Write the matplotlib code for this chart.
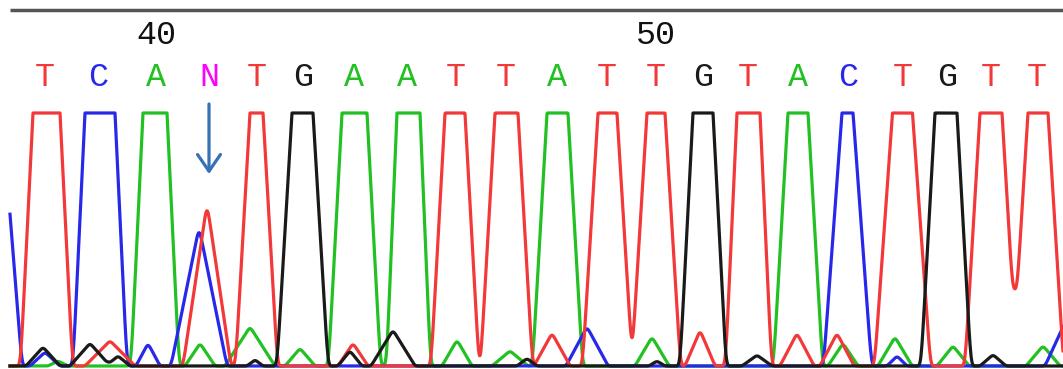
import numpy as np
import matplotlib.pyplot as plt

# base calls and where they sit on the trace (scan units)
bases = list("TCANTGAATTATTGTACTGTT")
call_pos = [45, 98, 156, 209, 257, 303, 354, 407, 456, 506, 557, 607, 656, 703, 748, 798, 848, 903, 947, 991, 1037]
first_base = 38

# peaks for each channel: centre, height, half width at the base
t_pos = [46.5, 207, 256.5, 455, 506.5, 607.5, 656, 748.5, 902.5, 991, 1038, 110, 353, 552, 700, 797, 837]
t_hgt = [2080, 645, 1450, 1710, 1790, 1610, 1580, 2000, 1555, 1733, 1641, 100, 90, 130, 142, 130, 130]
t_wid = [26, 24, 21, 24, 26, 25, 24.5, 23, 28, 26, 25.6, 25, 15, 18, 15, 17, 17]

c_pos = [-4, 100, 199, 847.5, 45, 148, 587, 897, 1080]
c_hgt = [1300, 2250, 550, 1300, 55, 90, 155, 40, 300]
c_wid = [26, 27, 28, 24, 15, 12, 21, 10, 35]

a_pos = [155, 354.5, 408.5, 557.5, 798, 58, 200, 250, 300, 457, 510, 652, 843, 895, 953, 1043]
a_hgt = [2000, 1925, 2100, 1720, 1690, 20, 90, 155, 70, 103, 60, 115, 90, 115, 80, 80]
a_wid = [24, 26, 22, 25, 24.5, 10, 15, 25, 15, 15, 18, 17, 15, 17, 16, 17]

g_pos = [302.5, 703, 946, 43, 90, 118, 255, 350, 393, 527, 657, 757, 993]
g_hgt = [1700, 1770, 1785, 75, 90, 40, 25, 60, 142, 30, 20, 43, 45]
g_wid = [25.5, 23, 25, 17, 20, 12, 8, 12, 22, 10, 8, 15, 13]

CLIP = 1000
colores = {"T": "#f23838", "C": "#2828ea", "A": "#22c022", "G": "#1a1a1a", "N": "#ff00ff"}


def traza(x, pos, hgt, wid):
    y = np.zeros_like(x)
    for p, h, w in zip(pos, hgt, wid):
        y += h * np.clip(1 - np.abs(x - p) / w, 0, None)
    # soften the corners a little
    k = np.exp(-np.arange(-8, 9) ** 2 / (2 * 3.0 ** 2))
    y = np.convolve(y, k / k.sum(), mode="same")
    return np.minimum(y, CLIP)


def v(py):
    # pixel row -> signal units
    return (366 - py) / 0.253


def main():
    fig = plt.figure(figsize=(10.63, 3.69), dpi=100)
    ax = fig.add_axes([0, 0, 1, 1])
    ax.set_xlim(0, 1063)
    ax.set_ylim(v(369), v(0))
    ax.axis("off")

    xx = np.arange(0, 1080, 0.5)
    m = (xx >= 10) & (xx <= 1063)
    lw = 2.3
    ax.plot(xx[m], traza(xx, a_pos, a_hgt, a_wid)[m], color=colores["A"], lw=lw)
    ax.plot(xx[m], traza(xx, c_pos, c_hgt, c_wid)[m], color=colores["C"], lw=lw)
    ax.plot(xx[m], traza(xx, t_pos, t_hgt, t_wid)[m], color=colores["T"], lw=lw)
    ax.plot(xx[m], traza(xx, g_pos, g_hgt, g_wid)[m], color=colores["G"], lw=lw)

    # frame line at the top
    ax.plot([10, 1063], [v(10), v(10)], color="#555555", lw=2.5, solid_capstyle="butt")

    for i, b in enumerate(bases):
        ax.text(call_pos[i], v(78), b, color=colores[b], fontsize=24,
                family="Liberation Mono", ha="center", va="center")
        num = first_base + i
        if num % 10 == 0:
            ax.text(call_pos[i], v(36), str(num), color="#111111", fontsize=24,
                    family="Liberation Mono", ha="center", va="center")

    n = bases.index("N")
    ax.annotate("", xy=(call_pos[n], v(174)), xytext=(call_pos[n], v(104)),
                arrowprops=dict(arrowstyle="->,head_length=0.8,head_width=0.55",
                                color="#3572b5", lw=2.3, mutation_scale=15,
                                shrinkA=0, shrinkB=0))

    fig.savefig("out.png", dpi=100)


if __name__ == "__main__":
    main()
